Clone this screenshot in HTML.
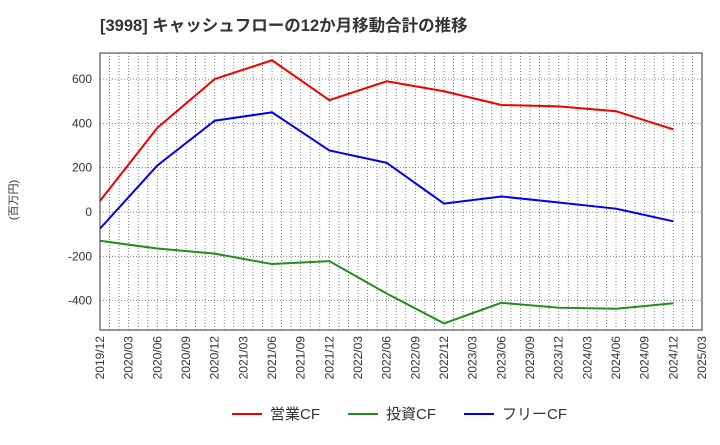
<!DOCTYPE html>
<html><head><meta charset="utf-8"><style>
body{margin:0;background:#fff;font-family:"Liberation Sans","Noto Sans CJK JP",sans-serif}
</style></head><body>
<svg width="720" height="440" xmlns="http://www.w3.org/2000/svg" font-family="Liberation Sans, Noto Sans CJK JP, sans-serif">
<text x="100" y="31" font-size="16.5" font-weight="bold" fill="#333">[3998]  キャッシュフローの12か月移動合計の推移</text>
<text transform="translate(17,200) rotate(-90)" font-size="11" fill="#333" text-anchor="middle">(百万円)</text>
<g id="grid"></g><g id="axes"></g><g id="series"></g>
<rect x="100" y="53" width="602" height="277" fill="none" stroke="#333"/>
<g font-size="15" fill="#333">
<line x1="232" y1="414" x2="262" y2="414" stroke="#e00" stroke-width="2"/><text x="270" y="419">営業CF</text>
<line x1="348" y1="414" x2="378" y2="414" stroke="#228b22" stroke-width="2"/><text x="386" y="419">投資CF</text>
<line x1="464" y1="414" x2="494" y2="414" stroke="#00e" stroke-width="2"/><text x="502" y="419">フリーCF</text>
</g>
</svg>
<script>
const xLabels=["2019/12","2020/03","2020/06","2020/09","2020/12","2021/03","2021/06","2021/09","2021/12","2022/03","2022/06","2022/09","2022/12","2023/03","2023/06","2023/09","2023/12","2024/03","2024/06","2024/09","2024/12","2025/03"];
const yTicks=[-400,-200,0,200,400,600];
const pointIdx=[0,2,4,6,8,10,12,14,16,18,20];
const opCF=[50,380,600,685,505,590,545,483,477,455,373];
const invCF=[-130,-165,-188,-235,-222,-368,-503,-410,-432,-437,-412];
const freeCF=[-75,210,412,450,278,222,38,70,43,15,-42];
const X0=100,X1=702,Y0=330,Y1=53;
const xs=i=>X0+(X1-X0)*i/(xLabels.length-1);
const ys=v=>212-v*0.2215;
const NS="http://www.w3.org/2000/svg";
function mk(t,a,p){const e=document.createElementNS(NS,t);for(const k in a)e.setAttribute(k,a[k]);p.appendChild(e);return e;}
const grid=document.getElementById('grid'),axes=document.getElementById('axes'),ser=document.getElementById('series');
for(let m=0;m<=(xLabels.length-1)*3;m++){const x=X0+(X1-X0)*m/((xLabels.length-1)*3);
const l=mk('line',{x1:x,x2:x,y1:Y1,y2:Y0,stroke:'#666','stroke-width':0.8,'stroke-dasharray':'1,2'},grid);
}
yTicks.forEach(v=>{const y=ys(v);
const l=mk('line',{x1:X0,x2:X1,y1:y,y2:y,stroke:'#666','stroke-width':0.8,'stroke-dasharray':'1,2'},grid);

const t=mk('text',{x:92,y:y+4,'font-size':12,fill:'#333','text-anchor':'end'},axes);t.textContent=v;
});
xLabels.forEach((s,i)=>{const x=xs(i);
const t=mk('text',{transform:`translate(${x+4},${Y0+6}) rotate(-90)`,'font-size':12,fill:'#333','text-anchor':'end'},axes);t.textContent=s;
});
[[opCF,'#e00','operating-cf-line'],[invCF,'#228b22','investing-cf-line'],[freeCF,'#00e','free-cf-line']].forEach(([d,c,n])=>{
const p=mk('polyline',{points:d.map((v,i)=>xs(pointIdx[i])+','+ys(v)).join(' '),fill:'none',stroke:c,'stroke-width':2},ser);
});
</script>
</body></html>
